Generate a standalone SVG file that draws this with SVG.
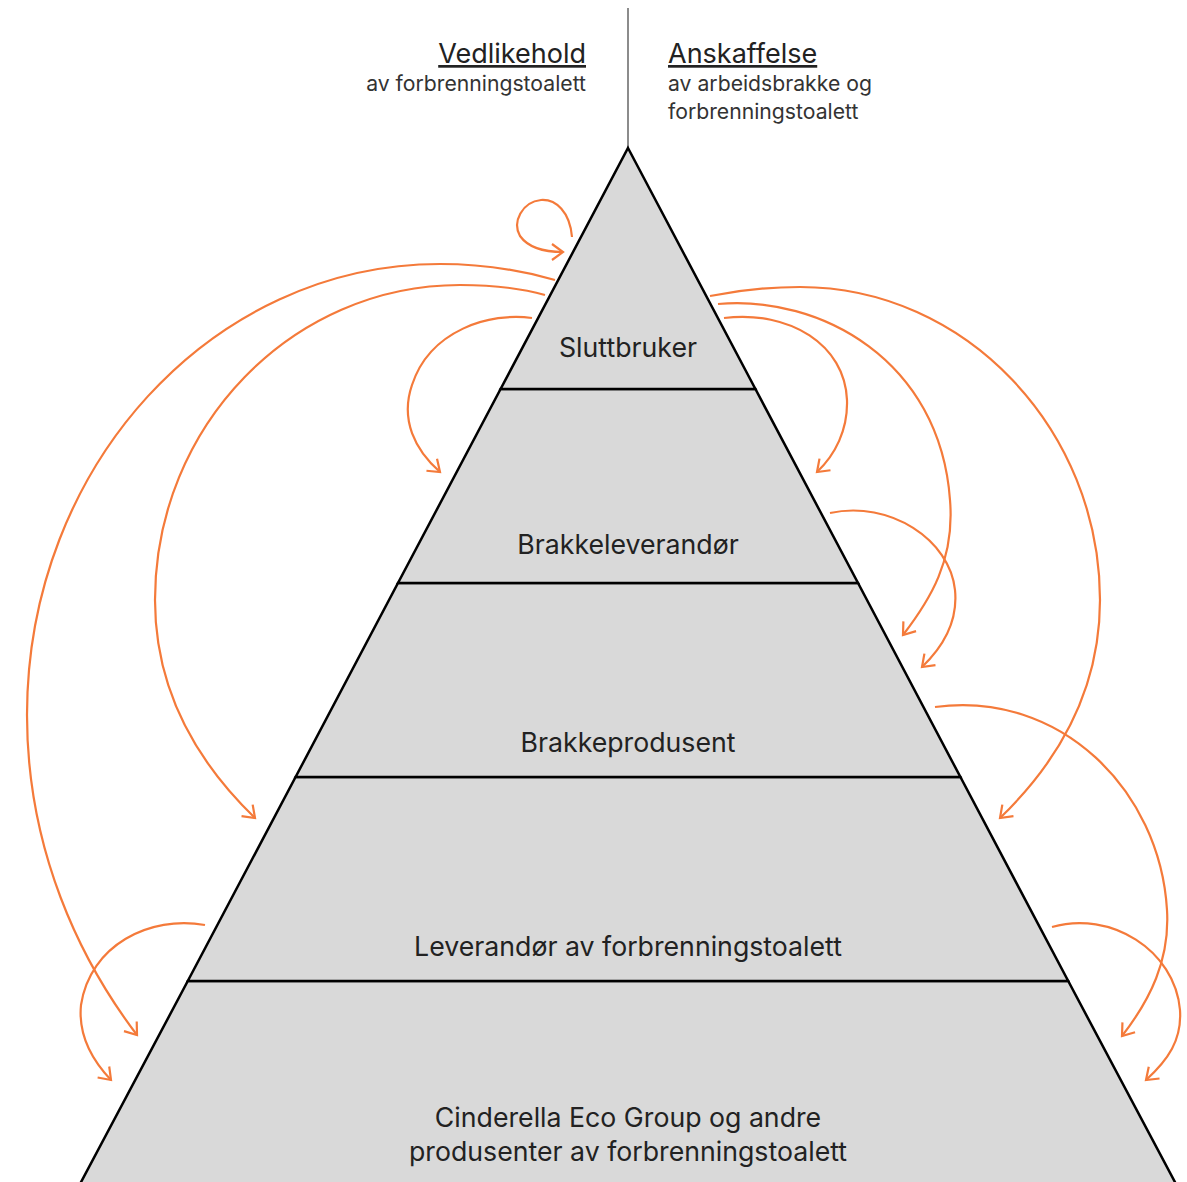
<svg xmlns="http://www.w3.org/2000/svg" width="1187" height="1182" viewBox="0 0 1187 1182">
<style>
.band{fill:#d9d9d9;stroke:#000;stroke-width:2.5;stroke-linejoin:miter}
.lbl{font-family:Inter,"Noto Sans",sans-serif;font-size:26.7px;fill:#222;text-anchor:middle}
.h{font-family:Inter,"Noto Sans",sans-serif;font-size:27px;fill:#222;text-decoration:underline}
.s{font-family:Inter,"Noto Sans",sans-serif;font-size:21.2px;fill:#333}
.arc{fill:none;stroke:#f47a3a;stroke-width:2.2;marker-end:url(#ah)}
</style>
<defs>
<marker id="ah" markerUnits="userSpaceOnUse" markerWidth="30" markerHeight="30" refX="0" refY="0" viewBox="-15 -15 30 30" orient="auto">
<path d="M-11,-8 L0,0 L-11,8" fill="none" stroke="#f47a3a" stroke-width="2.2"/>
</marker>
</defs>
<rect width="1187" height="1182" fill="#fff"/>
<line x1="628" y1="8" x2="628" y2="148" stroke="#666" stroke-width="1.5"/>
<g id="header-left">
<text class="h" x="586" y="63" text-anchor="end">Vedlikehold</text>
<text class="s" x="586" y="91" text-anchor="end">av forbrenningstoalett</text>
</g>
<g id="header-right">
<text class="h" x="668" y="63">Anskaffelse</text>
<text class="s" x="668" y="91">av arbeidsbrakke og</text>
<text class="s" x="668" y="119">forbrenningstoalett</text>
</g>
<g id="n-cinderella">
<polygon class="band" points="187.8,981 1068.2,981 1176,1184 80,1184"/>
<text class="lbl" x="628" y="1127">Cinderella Eco Group og andre</text>
<text class="lbl" x="628" y="1161">produsenter av forbrenningstoalett</text>
</g>
<g id="n-leverandor">
<polygon class="band" points="295.6,777 960.4,777 1068.2,981 187.8,981"/>
<text class="lbl" x="628" y="956">Leverandør av forbrenningstoalett</text>
</g>
<g id="n-brakkeprodusent">
<polygon class="band" points="398,583 858,583 960.4,777 295.6,777"/>
<text class="lbl" x="628" y="752">Brakkeprodusent</text>
</g>
<g id="n-brakkeleverandor">
<polygon class="band" points="500.6,389 755.4,389 858,583 398,583"/>
<text class="lbl" x="628" y="554">Brakkeleverandør</text>
</g>
<g id="n-sluttbruker">
<polygon class="band" points="628,148 755.4,389 500.6,389"/>
<text class="lbl" x="628" y="357">Sluttbruker</text>
</g>
<g id="connectors">
<path class="arc" d="M572,237 C570,212 556,199 541,200 C522,202 512,222 520,236 C530,250 548,252 563,252"/>
<path class="arc" d="M555,280 C520,270 480,264 440,264 C212,264 27,466 27,715 C27,850 80,960 137,1035"/>
<path class="arc" d="M545,295 C520,288 490,285 460,285 C292,285 155,426 155,600 C155,690 195,760 255,818"/>
<path class="arc" d="M532,318 C490,312 430,330 412,385 C400,420 415,450 440,472"/>
<path class="arc" d="M710,296 C740,290 770,287 800,287 C966,287 1100,430 1100,600 C1100,690 1060,760 1000,818"/>
<path class="arc" d="M718,304 C820,295 940,360 950,500 C955,560 930,600 903,635"/>
<path class="arc" d="M724,318 C790,310 845,345 847,400 C848,430 835,455 817,472"/>
<path class="arc" d="M830,513 C890,500 950,540 955,590 C958,620 945,645 922,667"/>
<path class="arc" d="M935,707 C1060,690 1160,790 1167,910 C1170,960 1150,1000 1122,1036"/>
<path class="arc" d="M1052,927 C1110,910 1175,950 1180,1010 C1182,1040 1168,1060 1146,1080"/>
<path class="arc" d="M205,925 C150,915 90,945 81,1005 C78,1035 92,1060 111,1080"/>
</g>
</svg>
